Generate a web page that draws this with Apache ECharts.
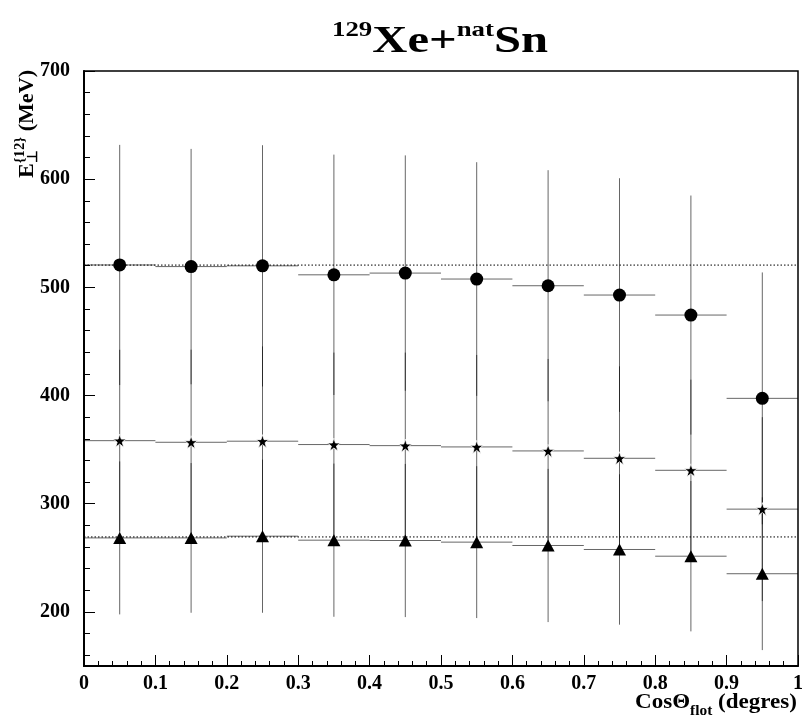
<!DOCTYPE html>
<html><head><meta charset="utf-8">
<script src="https://cdn.jsdelivr.net/npm/echarts@6/dist/echarts.min.js"></script>
<style>html,body{margin:0;padding:0;background:#fff}#c{width:806px;height:721px}</style>
</head><body><div id="c"></div>
<script>
// ---- data ----
const binCenters   = [0.05, 0.15, 0.25, 0.35, 0.45, 0.55, 0.65, 0.75, 0.85, 0.95];
const binHalfWidth = [0.05, 0.05, 0.05, 0.05, 0.05, 0.05, 0.05, 0.05, 0.05, 0.05];
const circleY   = [520.7, 519.2, 519.9, 511.6, 513.2, 507.7, 501.5, 492.9, 474.4, 397.4];
const circleErr = [111.0, 108.8, 111.5, 111.1, 108.8, 108.0, 106.8, 108.0, 110.5, 116.4];
const starY     = [358.3, 356.8, 357.8, 354.7, 353.7, 352.5, 348.8, 342.0, 330.9, 295.0];
const starErr   = [84.0, 85.6, 87.6, 85.0, 86.0, 85.0, 85.0, 85.0, 83.8, 85.0];
const triY      = [268.4, 268.4, 270.0, 266.3, 266.0, 264.5, 261.4, 257.7, 251.5, 235.3];
const triErr    = [70.7, 69.2, 70.8, 70.8, 70.8, 70.2, 70.8, 69.5, 69.5, 70.6];
const refLevels = [520.6, 269.3];
const yMajorTicks = [200, 300, 400, 500, 600, 700];
const yMinorTicks = [160, 180, 220, 240, 260, 280, 320, 340, 360, 380, 420, 440, 460, 480,
                     520, 540, 560, 580, 620, 640, 660, 680];
const titleParts = ['129', 'Xe+', 'nat', 'Sn'];
const xNameParts = ['Cos\u0398', 'flot', ' (degres)'];
const yNameParts = ['E', '\u22A5', '{12}', ' (MeV)'];

const FONT = '"Liberation Serif", "Times New Roman", serif';
const chart = echarts.init(document.getElementById('c'), null, {renderer: 'canvas'});

// ---- text helpers (sub/superscripts laid out piece by piece) ----
const mctx = document.createElement('canvas').getContext('2d');
function fontStr(size) { return 'bold ' + size + 'px ' + FONT; }
function tw(t, size) { mctx.font = fontStr(size); return mctx.measureText(t).width; }
// segs: {t, size, base (baseline offset, +down), stack (do not advance)}
function textGroup(segs, opt) {
  let x = 0; const children = [];
  segs.forEach(s => {
    const w = tw(s.t, s.size);
    children.push({type: 'text', x: x, y: s.base + 0.2 * s.size, style: {
      text: s.t, font: fontStr(s.size), fill: '#000', align: 'left', verticalAlign: 'bottom'}});
    if (!s.stack) x += w;
  });
  const total = x;
  const sx = opt.width / total;
  let gx = opt.x, gy = opt.y;
  if (opt.anchor === 'center') gx = opt.x - opt.width / 2;
  if (opt.anchor === 'right') gx = opt.x - opt.width;
  if (opt.anchor === 'upEnd') gy = opt.y + opt.width;   // rotated, text ends at opt.y
  return {type: 'group', x: gx, y: gy, rotation: opt.rotation || 0, scaleX: sx, z: 10, children: children};
}

function errData(ys, errs) {
  return binCenters.map((x, i) => [x, ys[i], binHalfWidth[i], errs[i]]);
}
function ptData(ys) { return binCenters.map((x, i) => [x, ys[i]]); }

const LINE = 'rgba(0,0,0,0.6)';
function errRender(params, api) {
  const x = api.value(0), y = api.value(1), ex = api.value(2), ey = api.value(3);
  const pL = api.coord([x - ex, y]), pR = api.coord([x + ex, y]);
  const pT = api.coord([x, y + ey]), pB = api.coord([x, y - ey]);
  return {type: 'group', children: [
    {type: 'line', shape: {x1: pL[0], y1: pL[1], x2: pR[0], y2: pR[1]}, style: {stroke: LINE, lineWidth: 1}},
    {type: 'line', shape: {x1: pT[0], y1: pT[1], x2: pB[0], y2: pB[1]}, style: {stroke: LINE, lineWidth: 1}}
  ]};
}
function errSeries(ys, errs) {
  return {type: 'custom', renderItem: errRender, data: errData(ys, errs),
          encode: {x: 0, y: 1}, z: 3, silent: true, clip: false};
}
const STAR = 'path://M50,0 L61.8,35.1 L98.9,35.1 L69,57 L80.3,92.5 L50,70.9 L19.7,92.5 L31,57 L1.1,35.1 L38.2,35.1 Z';

const axisLabelStyle = {fontFamily: FONT, fontWeight: 'bold', fontSize: 20, color: '#000'};

const series = [];
refLevels.forEach(v => series.push({
  type: 'line', data: [[0, v], [1, v]], symbol: 'none', silent: true, z: 1,
  lineStyle: {color: '#000', width: 1, type: [1.5, 2]}
}));
series.push(errSeries(circleY, circleErr));
series.push(errSeries(starY, starErr));
series.push(errSeries(triY, triErr));
series.push({type: 'scatter', data: ptData(circleY), symbol: 'circle', symbolSize: 13,
  itemStyle: {color: '#000', opacity: 1}, z: 5, silent: true});
series.push({type: 'scatter', data: ptData(starY), symbol: STAR, symbolSize: 13,
  itemStyle: {color: '#000', opacity: 1, borderColor: '#fff', borderWidth: 0.8}, z: 5, silent: true});
series.push({type: 'scatter', data: ptData(triY), symbol: 'triangle', symbolSize: [13, 12],
  itemStyle: {color: '#000', opacity: 1}, z: 5, silent: true});

chart.setOption({
  animation: false,
  backgroundColor: '#fff',
  grid: {left: 84, right: 4, top: 71, bottom: 55, show: true, borderColor: '#000', borderWidth: 1.5,
         backgroundColor: 'transparent'},
  xAxis: {
    type: 'value', min: 0, max: 1, interval: 0.1,
    axisLine: {show: true, lineStyle: {color: '#000', width: 2}},
    axisTick: {show: true, inside: true, length: 11, lineStyle: {color: '#000', width: 1}},
    minorTick: {show: true, splitNumber: 5, length: 5, lineStyle: {color: '#000', width: 1}},
    splitLine: {show: false},
    axisLabel: Object.assign({margin: 8, formatter: v => String(+v.toFixed(1)),
      showMinLabel: true, showMaxLabel: true}, axisLabelStyle)
  },
  yAxis: [{
    type: 'value', min: 150, max: 700,
    axisLine: {show: true, lineStyle: {color: '#000', width: 2}},
    axisTick: {show: true, inside: true, length: 11, customValues: yMajorTicks, lineStyle: {color: '#000', width: 1}},
    splitLine: {show: false},
    axisLabel: Object.assign({margin: 14, customValues: yMajorTicks}, axisLabelStyle)
  }, {
    type: 'value', min: 150, max: 700, position: 'left',
    axisLine: {show: false},
    axisTick: {show: true, inside: true, length: 6, customValues: yMinorTicks, lineStyle: {color: '#000', width: 1}},
    splitLine: {show: false},
    axisLabel: {show: false}
  }],
  series: series,
  graphic: [
    textGroup([
      {t: titleParts[0], size: 21, base: -17},
      {t: titleParts[1], size: 38, base: 0},
      {t: titleParts[2], size: 21, base: -17},
      {t: titleParts[3], size: 38, base: 0}
    ], {x: 440, y: 54, anchor: 'center', width: 216}),
    textGroup([
      {t: xNameParts[0], size: 21, base: 0},
      {t: xNameParts[1], size: 14, base: 7},
      {t: xNameParts[2], size: 21, base: 0}
    ], {x: 797, y: 709, anchor: 'right', width: 162}),
    textGroup([
      {t: yNameParts[0], size: 21, base: 0},
      {t: yNameParts[1], size: 14, base: 4, stack: true},
      {t: yNameParts[2], size: 14, base: -9},
      {t: yNameParts[3], size: 21, base: 0}
    ], {x: 34, y: 70, anchor: 'upEnd', width: 108, rotation: Math.PI / 2})
  ]
});
</script></body></html>
